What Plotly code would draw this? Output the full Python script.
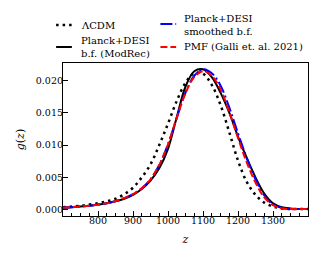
import plotly.graph_objects as go

# redshift grid
z = [700, 725, 750, 775, 800, 825, 850, 875, 900, 925, 950, 975, 1000, 1025, 1050,
     1075, 1100, 1125, 1150, 1175, 1200, 1225, 1250, 1275, 1300, 1325, 1350, 1375, 1400]

# visibility functions g(z)
g_lcdm = [0.0004, 0.0005, 0.0006, 0.0008, 0.0010, 0.0013, 0.0017, 0.0024, 0.0034, 0.0050,
          0.0070, 0.0100, 0.0133, 0.0168, 0.0196, 0.0211, 0.0210, 0.0193, 0.0162, 0.0120,
          0.0076, 0.0043, 0.0023, 0.0011, 0.0005, 0.0002, 0.0001, 0.0001, 0.0001]
g_modrec = [0.0003, 0.0004, 0.0005, 0.0006, 0.0008, 0.0010, 0.0013, 0.0017, 0.0023, 0.0032,
            0.0045, 0.0064, 0.0094, 0.0143, 0.0190, 0.0214, 0.0217, 0.0205, 0.0181, 0.0150,
            0.0113, 0.0080, 0.0050, 0.0025, 0.0010, 0.0004, 0.0002, 0.0001, 0.0001]
g_smooth = [0.0003, 0.0004, 0.0005, 0.0006, 0.0008, 0.0010, 0.0013, 0.0018, 0.0024, 0.0033,
            0.0047, 0.0069, 0.0101, 0.0142, 0.0181, 0.0207, 0.0217, 0.0211, 0.0192, 0.0158,
            0.0118, 0.0080, 0.0047, 0.0022, 0.0008, 0.0003, 0.0001, 0.0001, 0.0001]
g_pmf = [0.0003, 0.0004, 0.0005, 0.0006, 0.0008, 0.0010, 0.0013, 0.0018, 0.0024, 0.0033,
         0.0047, 0.0069, 0.0101, 0.0142, 0.0180, 0.0205, 0.0214, 0.0207, 0.0186, 0.0151,
         0.0111, 0.0073, 0.0042, 0.0019, 0.0007, 0.0002, 0.0001, 0.0001, 0.0001]

labels = ["ΛCDM", "Planck+DESI<br>b.f. (ModRec)", "Planck+DESI<br>smoothed b.f.",
          "PMF (Galli et. al. 2021)"]

FONT = "DejaVu Serif"
FS = 10

series = [
    (g_lcdm, "black", "2.5px,4px", 2.5),
    (g_modrec, "black", "solid", 2.0),
    (g_smooth, "blue", "12px,3px,2px,3px", 2.0),
    (g_pmf, "red", "7px,3px", 2.0),
]

fig = go.Figure()
for (g, col, dash, w), name in zip(series, labels):
    fig.add_trace(go.Scatter(x=z, y=g, mode="lines", name=name, showlegend=False,
                             line=dict(color=col, dash=dash, width=w, shape="spline",
                                       smoothing=1.0)))

# page body has an 8px default margin; compensate so the figure lands in place
OFF = 8
FW, FH = 322 - OFF, 259 - OFF
L, R, T, B = 51, 14, 55, 43
W, H = FW - L - R, FH - T - B

def px(xp):
    return (xp - OFF - L) / W
def py(yp):
    return (FH - B - (yp - OFF)) / H

# manual legend (two columns), positions in page pixels
legend_items = [
    (52, 68, 25, 75, 25, 0),
    (52, 68, 47, 75, 47.5, 1),
    (158, 174, 24, 180, 24.5, 2),
    (158, 174, 47, 180, 47, 3),
]
for x0, x1, ly, tx, ty, i in legend_items:
    g, col, dash, w = series[i]
    fig.add_shape(type="line", xref="paper", yref="paper", x0=px(x0), x1=px(x1),
                  y0=py(ly), y1=py(ly), line=dict(color=col, dash=dash, width=w))
    fig.add_annotation(xref="paper", yref="paper", x=px(tx), y=py(ty), text=labels[i],
                       showarrow=False, xanchor="left", yanchor="middle", align="left",
                       font=dict(family=FONT, size=FS, color="black"))

fig.update_layout(
    width=FW, height=FH,
    margin=dict(l=L, r=R, t=T, b=B),
    plot_bgcolor="white", paper_bgcolor="white",
    font=dict(family=FONT, size=FS, color="black"),
    showlegend=False,
)
fig.update_xaxes(range=[700, 1400], tickvals=[800, 900, 1000, 1100, 1200, 1300],
                 ticks="inside", ticklen=4.5, tickwidth=1, tickcolor="black",
                 ticklabelstandoff=-5, tickfont=dict(size=9.5),
                 minor=dict(dtick=25, tick0=700, ticks="inside", ticklen=2.5, tickwidth=0.8,
                            tickcolor="black", showgrid=False),
                 showline=True, linecolor="black", linewidth=1.2, mirror=True,
                 showgrid=False, zeroline=False,
                 title=dict(text="<i>z</i>", standoff=10, font=dict(size=11)))
fig.update_yaxes(range=[-0.00097, 0.02267], tickvals=[0, 0.005, 0.010, 0.015, 0.020],
                 tickformat=".3f", tickfont=dict(size=9.5),
                 ticks="inside", ticklen=4.5, tickwidth=1, tickcolor="black",
                 ticklabelstandoff=-3,
                 showline=True, linecolor="black", linewidth=1.2, mirror=True,
                 showgrid=False, zeroline=False,
                 title=dict(text="<i>g</i>(<i>z</i>)", standoff=8, font=dict(size=11)))

fig.write_html("out.html")
